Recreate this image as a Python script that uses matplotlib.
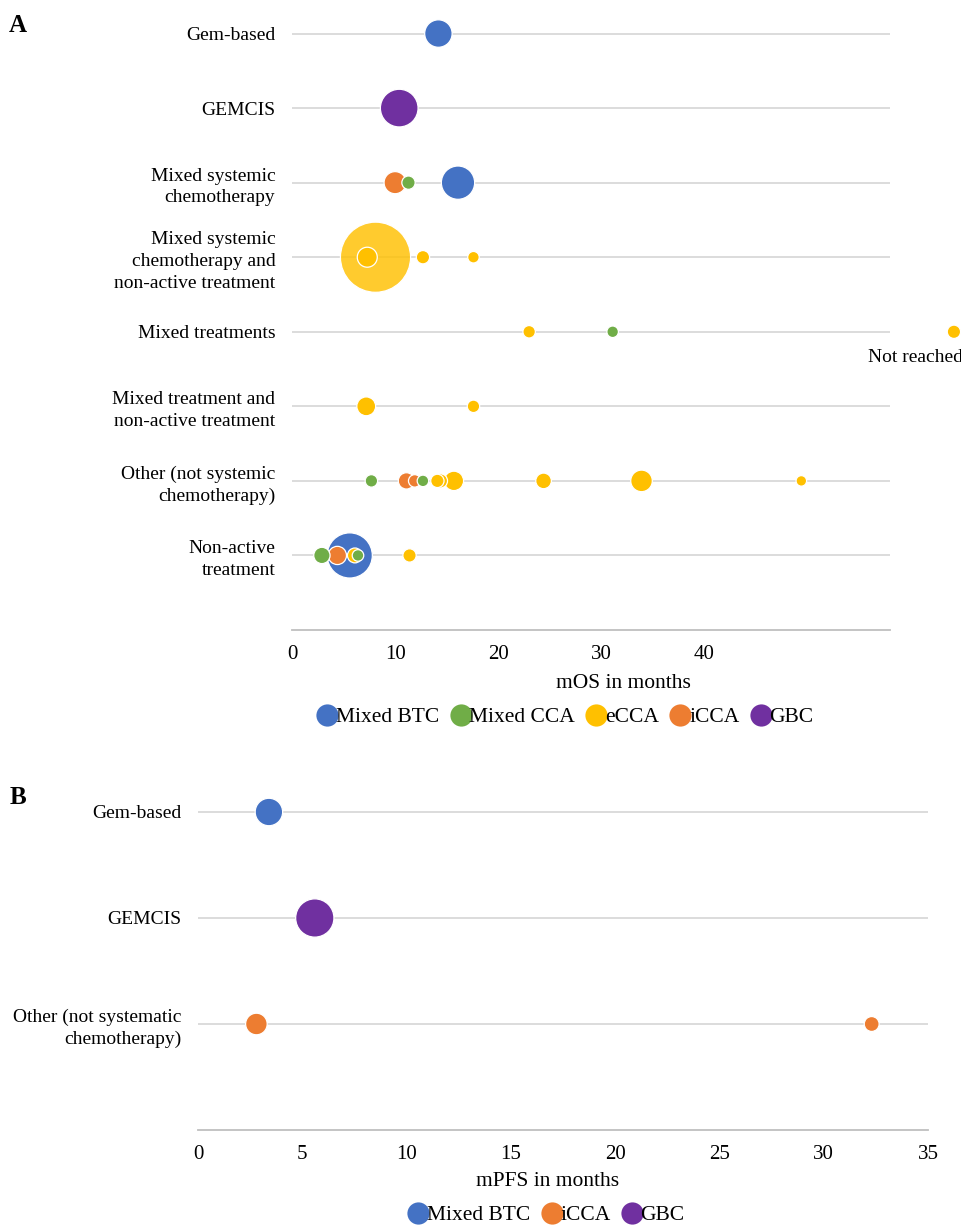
import matplotlib
matplotlib.use("Agg")
import matplotlib.pyplot as plt
from matplotlib.lines import Line2D
import numpy as np

plt.rcParams['font.family'] = ['Liberation Serif', 'DejaVu Serif']

# colours per tumour group
COLORS = {
    "Mixed BTC": "#4472C4",
    "Mixed CCA": "#70AD47",
    "eCCA": "#FFC000",
    "iCCA": "#ED7D31",
    "GBC": "#7030A0",
}

# ---- panel A: median overall survival ----
rows_a = [
    "Non-active\ntreatment",
    "Other (not systemic\nchemotherapy)",
    "Mixed treatment and\nnon-active treatment",
    "Mixed treatments",
    "Mixed systemic\nchemotherapy and\nnon-active treatment",
    "Mixed systemic\nchemotherapy",
    "GEMCIS",
    "Gem-based",
]
# row index (1 = bottom), mOS in months, bubble size (patients)
btc_row_a = [8, 6, 1]
btc_mos = [14.2, 16.1, 5.6]
btc_n_a = [34, 50, 92]

cca_row_a = [6, 4, 2, 2, 1, 1]
cca_mos = [11.3, 31.1, 7.7, 12.7, 2.9, 6.4]
cca_n_a = [8, 6, 7, 6, 12, 6]

ecca_row_a = [5, 5, 5, 5, 4, 4, 3, 3, 2, 2, 2, 2, 2, 2, 1, 1]
ecca_mos = [8.1, 7.3, 12.7, 17.6, 23.0, 64.2, 7.2, 17.6, 14.1, 14.4, 15.7, 24.4, 33.9, 49.4, 6.1, 11.4]
ecca_n_a = [222, 18, 8, 6, 7, 8, 16, 7, 8, 9, 17, 11, 21, 5, 10, 8]
ecca_alpha = [0.82, 1, 1, 1, 1, 1, 1, 1, 1, 1, 1, 1, 1, 1, 1, 1]

icca_row_a = [6, 2, 2, 1]
icca_mos = [10.0, 11.1, 11.9, 4.4]
icca_n_a = [22, 12, 7, 15]

gbc_row_a = [7]
gbc_mos = [10.4]
gbc_n_a = [64]

not_reached_mos = 64.2

# ---- panel B: median progression-free survival ----
rows_b = [
    "Other (not systematic\nchemotherapy)",
    "GEMCIS",
    "Gem-based",
]
btc_row_b = [3]
btc_mpfs = [3.4]
btc_n_b = [34]

icca_row_b = [1, 1]
icca_mpfs = [2.8, 32.3]
icca_n_b = [21, 10]

gbc_row_b = [2]
gbc_mpfs = [5.6]
gbc_n_b = [66]

SIZE_SCALE = 11.5  # points^2 per patient


def draw_bubbles(ax, series):
    xs, ys, ss, cs = [], [], [], []
    for name, rws, vals, ns, alphas in series:
        rgba = matplotlib.colors.to_rgba_array(COLORS[name])[0]
        for r, v, n, a in zip(rws, vals, ns, alphas):
            xs.append(v)
            ys.append(r)
            ss.append(n * SIZE_SCALE)
            cs.append((rgba[0], rgba[1], rgba[2], a))
    order = np.argsort(ss)[::-1]
    ax.scatter(np.array(xs)[order], np.array(ys)[order], s=np.array(ss)[order],
               c=[cs[i] for i in order], edgecolors="white", linewidths=0.9,
               clip_on=False, zorder=3)


def style_axis(ax, labels, xmax, xticks):
    ax.set_yticks(range(1, len(labels) + 1))
    ax.set_yticklabels(labels, fontsize=14, multialignment="right", linespacing=1.35)
    ax.set_xlim(0, xmax)
    ax.set_xticks(xticks)
    ax.tick_params(axis="both", length=0)
    ax.tick_params(axis="x", labelsize=15, pad=11)
    ax.tick_params(axis="y", pad=12)
    for sp in ["top", "right", "left"]:
        ax.spines[sp].set_visible(False)
    ax.spines["bottom"].set_color("#BFBFBF")
    ax.spines["bottom"].set_linewidth(1.3)
    ax.grid(axis="y", color="#D9D9D9", linewidth=1.3)
    ax.set_axisbelow(True)


fig = plt.figure(figsize=(9.62, 12.27), dpi=100)
W, H = 962, 1227

axA = fig.add_axes([292 / W, 597 / H, 598 / W, 630 / H])
style_axis(axA, rows_a, 58, [0, 10, 20, 30, 40])
axA.set_ylim(0, 8.45)
ones = lambda n: [1] * len(n)
draw_bubbles(axA, [
    ("Mixed BTC", btc_row_a, btc_mos, btc_n_a, ones(btc_n_a)),
    ("Mixed CCA", cca_row_a, cca_mos, cca_n_a, ones(cca_n_a)),
    ("eCCA", ecca_row_a, ecca_mos, ecca_n_a, ecca_alpha),
    ("iCCA", icca_row_a, icca_mos, icca_n_a, ones(icca_n_a)),
    ("GBC", gbc_row_a, gbc_mos, gbc_n_a, ones(gbc_n_a)),
])
axA.text(not_reached_mos - 3.7, 4 - 0.35, "Not reached", fontsize=14,
         ha="center", va="center", clip_on=False)

axB = fig.add_axes([198 / W, 97 / H, 730 / W, 371 / H])
style_axis(axB, rows_b, 35, [0, 5, 10, 15, 20, 25, 30, 35])
axB.set_ylim(0, 3.5)
draw_bubbles(axB, [
    ("Mixed BTC", btc_row_b, btc_mpfs, btc_n_b, ones(btc_n_b)),
    ("iCCA", icca_row_b, icca_mpfs, icca_n_b, ones(icca_n_b)),
    ("GBC", gbc_row_b, gbc_mpfs, gbc_n_b, ones(gbc_n_b)),
])

# axis titles
fig.text(623 / W, 1 - 684 / H, "mOS in months", fontsize=15.5, ha="center", va="center")
fig.text(548 / W, 1 - 1181 / H, "mPFS in months", fontsize=15.5, ha="center", va="center")

# panel letters
fig.text(18 / W, 1 - 26 / H, "A", fontsize=18, fontweight="bold", ha="center", va="center")
fig.text(18 / W, 1 - 797 / H, "B", fontsize=18, fontweight="bold", ha="center", va="center")


def legend(names, cx, cy):
    handles = [Line2D([], [], marker="o", linestyle="none", markersize=16,
                      markerfacecolor=COLORS[n], markeredgecolor="none", label=n)
               for n in names]
    fig.legend(handles=handles, loc="center", bbox_to_anchor=(cx / W, 1 - cy / H),
               ncol=len(names), frameon=False, fontsize=15.5, handletextpad=-0.1,
               columnspacing=0.5, handlelength=1.0, borderaxespad=0)


legend(["Mixed BTC", "Mixed CCA", "eCCA", "iCCA", "GBC"], 565, 717)
legend(["Mixed BTC", "iCCA", "GBC"], 546, 1215)

fig.savefig("out.png", dpi=100)
